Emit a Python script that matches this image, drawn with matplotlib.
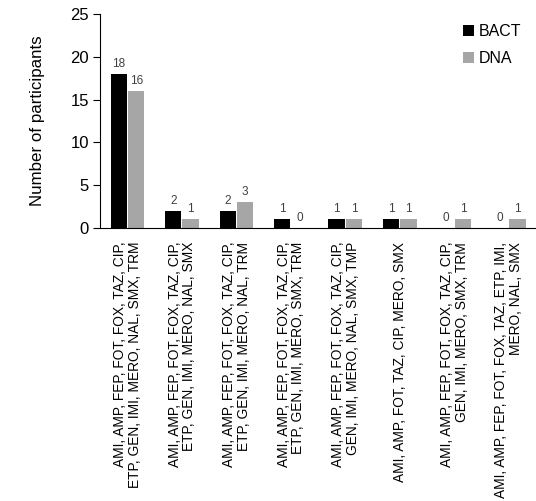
import numpy as np
import matplotlib.pyplot as plt

plt.rcParams['font.family'] = ['Liberation Sans', 'DejaVu Sans']

profiles = [
    "AMI, AMP, FEP, FOT, FOX, TAZ, CIP,\nETP, GEN, IMI, MERO, NAL, SMX, TRM",
    "AMI, AMP, FEP, FOT, FOX, TAZ, CIP,\nETP, GEN, IMI, MERO, NAL, SMX",
    "AMI, AMP, FEP, FOT, FOX, TAZ, CIP,\nETP, GEN, IMI, MERO, NAL, TRM",
    "AMI, AMP, FEP, FOT, FOX, TAZ, CIP,\nETP, GEN, IMI, MERO, SMX, TRM",
    "AMI, AMP, FEP, FOT, FOX, TAZ, CIP,\nGEN, IMI, MERO, NAL, SMX, TMP",
    "AMI, AMP, FOT, TAZ, CIP, MERO, SMX",
    "AMI, AMP, FEP, FOT, FOX, TAZ, CIP,\nGEN, IMI, MERO, SMX, TRM",
    "AMI, AMP, FEP, FOT, FOX, TAZ, ETP, IMI,\nMERO, NAL, SMX",
]
bact = [18, 2, 2, 1, 1, 1, 0, 0]
dna = [16, 1, 3, 0, 1, 1, 1, 1]

x = np.arange(len(profiles))
w = 0.3

fig = plt.figure(figsize=(5.36, 5.01), dpi=100)
ax = fig.add_axes([0.187, 0.545, 0.813, 0.427])

b1 = ax.bar(x - w / 2 - 0.01, bact, w, color="black", label="BACT")
b2 = ax.bar(x + w / 2 + 0.01, dna, w, color="#a6a6a6", label="DNA")
for bars in (b1, b2):
    ax.bar_label(bars, padding=3, fontsize=8.5, color="#404040")

ax.set_xlim(-0.5, len(profiles) - 0.5)
ax.set_ylim(0, 25)
ax.set_yticks([0, 5, 10, 15, 20, 25])
ax.set_xticks(x)
ax.set_xticklabels(profiles, rotation=90, fontsize=9.9, ha="center", va="top",
                   multialignment="right", linespacing=1.05)
ax.tick_params(axis="x", length=0, pad=10)
ax.tick_params(axis="y", labelsize=12, direction="out", length=5, pad=3)
ax.set_ylabel("Number of participants", fontsize=12.2, labelpad=18)

for s in ("top", "right"):
    ax.spines[s].set_visible(False)

ax.legend(loc="upper right", bbox_to_anchor=(1.0, 1.02), frameon=False,
          fontsize=11.5, handlelength=0.7, handleheight=0.7, handletextpad=0.3,
          labelspacing=0.75)

fig.savefig("out.png", dpi=100)
